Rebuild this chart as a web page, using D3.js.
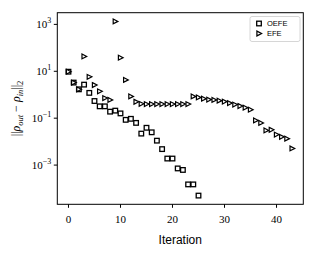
<!DOCTYPE html>
<meta charset="utf-8">
<script src="https://cdn.jsdelivr.net/npm/d3@7/dist/d3.min.js"></script>
<style>
  body { margin: 0; background: #fff; }
  svg text { fill: #000; }
</style>
<svg></svg>
<script>
// residual norm per iteration (index = iteration number)
var oefe = [9.6, 3.3, 1.7, 2.7, 1.2, 0.54, 0.32, 0.32, 0.19, 0.21,
            0.16, 0.085, 0.094, 0.063, 0.022, 0.039, 0.025, 0.011, 0.0048, 0.0019,
            0.0019, 7.2e-4, 6.2e-4, 1.5e-4, 1.5e-4, 5e-5];
var efe = [9.6, 3.3, 1.7, 43, 5.8, 2.6, 1.4, 0.72, 0.6, 1340,
           38, 4.3, 0.85, 0.5, 0.41, 0.40, 0.40, 0.40, 0.40, 0.40,
           0.40, 0.40, 0.40, 0.40, 0.85, 0.77, 0.68, 0.62, 0.60, 0.56,
           0.51, 0.44, 0.38, 0.33, 0.28, 0.23, 0.080, 0.0625, 0.030, 0.032,
           0.020, 0.016, 0.0134, 0.0051];
var xTicks = [0, 10, 20, 30, 40];
var yTicks = [-3, -1, 1, 3];   // exponents
var seriesNames = ["OEFE", "EFE"];

var W = 320, H = 257;
var margin = {left: 57.3, right: 16.7, top: 12.7, bottom: 52.7};

var svg = d3.select("svg").attr("width", W).attr("height", H);

// matplotlib-like 5% padding
var xmax = efe.length - 1;
var xpad = 0.05 * xmax;
var x = d3.scaleLinear()
          .domain([-xpad, xmax + xpad])
          .range([margin.left, W - margin.right]);

var all = oefe.concat(efe);
var lmin = Math.log10(d3.min(all)), lmax = Math.log10(d3.max(all));
var lpad = 0.05 * (lmax - lmin);
var y = d3.scaleLog()
          .domain([Math.pow(10, lmin - lpad), Math.pow(10, lmax + lpad)])
          .range([H - margin.bottom, margin.top]);

var serif = "'Liberation Serif', 'DejaVu Serif', serif";
var sans = "'Liberation Sans', Arial, sans-serif";

function square(g){
	g.append("rect")
	 .attr("x", -2.3).attr("y", -2.3)
	 .attr("width", 4.6).attr("height", 4.6)
	 .attr("fill", "#fff").attr("stroke", "#000").attr("stroke-width", 1.3);
}
function tri(g){
	g.append("path")
	 .attr("d", "M-2.1,-2.4L2.6,0L-2.1,2.4Z")
	 .attr("fill", "#fff").attr("stroke", "#000").attr("stroke-width", 1.2)
	 .attr("stroke-linejoin", "miter");
}

// frame
svg.append("rect")
   .attr("x", margin.left).attr("y", margin.top)
   .attr("width", W - margin.right - margin.left)
   .attr("height", H - margin.bottom - margin.top)
   .attr("fill", "none").attr("stroke", "#000").attr("stroke-width", 1);

// x ticks
var xb = H - margin.bottom;
xTicks.forEach(function(t){
	svg.append("line")
	   .attr("x1", x(t)).attr("x2", x(t))
	   .attr("y1", xb).attr("y2", xb + 3.5)
	   .attr("stroke", "#000").attr("stroke-width", 1);
	svg.append("text")
	   .attr("x", x(t)).attr("y", xb + 19)
	   .attr("text-anchor", "middle")
	   .style("font-family", serif).style("font-size", "11px")
	   .text(t);
});

// y ticks
yTicks.forEach(function(e){
	var yy = y(Math.pow(10, e));
	svg.append("line")
	   .attr("x1", margin.left - 3.5).attr("x2", margin.left)
	   .attr("y1", yy).attr("y2", yy)
	   .attr("stroke", "#000").attr("stroke-width", 1);
	var t = svg.append("text")
	   .attr("x", margin.left - 6).attr("y", yy + 4)
	   .attr("text-anchor", "end")
	   .style("font-family", serif).style("font-size", "11px");
	t.append("tspan").text("10");
	t.append("tspan").attr("dy", -5).style("font-size", "8px")
	 .text(e < 0 ? "\u2212" + (-e) : e);
});

// data
var g = svg.append("g");
oefe.forEach(function(v, i){
	g.append("g").attr("transform", "translate(" + x(i) + "," + y(v) + ")").call(square);
});
efe.forEach(function(v, i){
	g.append("g").attr("transform", "translate(" + x(i) + "," + y(v) + ")").call(tri);
});

// axis labels
svg.append("text")
   .attr("x", (margin.left + W - margin.right) / 2).attr("y", 244)
   .attr("text-anchor", "middle")
   .style("font-family", sans).style("font-size", "12px")
   .text("Iteration");

var yl = svg.append("text")
   .attr("transform", "translate(20," + ((margin.top + H - margin.bottom) / 2) + ") rotate(-90)")
   .attr("text-anchor", "middle")
   .style("font-family", serif).style("font-size", "12px");
yl.append("tspan").text("||");
yl.append("tspan").style("font-style", "italic").text("\u03c1");
yl.append("tspan").attr("dy", 3).style("font-style", "italic").style("font-size", "8.5px").text("out");
yl.append("tspan").attr("dy", -3).text(" \u2212 ");
yl.append("tspan").style("font-style", "italic").text("\u03c1");
yl.append("tspan").attr("dy", 3).style("font-style", "italic").style("font-size", "8.5px").text("in");
yl.append("tspan").attr("dy", -3).text("||");
yl.append("tspan").attr("dy", 3).style("font-size", "8.5px").text("2");

// legend
var lg = svg.append("g");
lg.append("rect")
  .attr("x", 250).attr("y", 16.5).attr("width", 50).attr("height", 25)
  .attr("rx", 2).attr("fill", "#fff").attr("stroke", "#ccc").attr("stroke-width", 0.8);
var markers = [square, tri];
seriesNames.forEach(function(name, i){
	var cy = 23.5 + i * 10;
	lg.append("g").attr("transform", "translate(259," + cy + ")").call(markers[i]);
	lg.append("text")
	  .attr("x", 267).attr("y", cy + 2.6)
	  .style("font-family", sans).style("font-size", "7.5px")
	  .text(name);
});
</script>
